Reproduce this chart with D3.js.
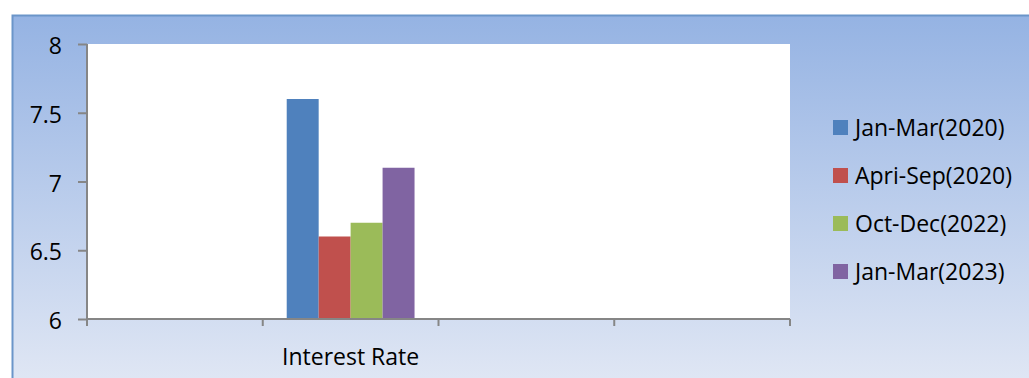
<!DOCTYPE html>
<html>
<head>
<meta charset="utf-8">
<script src="https://cdn.jsdelivr.net/npm/d3@7"></script>
<style>
  html, body { margin: 0; padding: 0; background: #fff; }
  svg { display: block; font-family: "Open Sans", "Noto Sans", sans-serif; }
</style>
</head>
<body>
<svg id="chart"></svg>
<script>
const width = 1029, height = 378;
const margin = { top: 44, right: 239, bottom: 59, left: 87 };
const plotWidth = width - margin.left - margin.right;
const plotHeight = height - margin.top - margin.bottom;

// Data
const categories = ["", "Interest Rate", "", ""];
const seriesNames = ["Jan-Mar(2020)", "Apri-Sep(2020)", "Oct-Dec(2022)", "Jan-Mar(2023)"];
const seriesValues = [7.6, 6.6, 6.7, 7.1];
const seriesColors = ["#4f81bd", "#c0504d", "#9bbb59", "#8064a2"];
const yTicks = [6, 6.5, 7, 7.5, 8];

const svg = d3.select("#chart")
    .attr("width", width)
    .attr("height", height)
    .attr("viewBox", [0, 0, width, height]);

// Background gradient
const defs = svg.append("defs");
const grad = defs.append("linearGradient")
    .attr("id", "bg")
    .attr("x1", 0).attr("y1", 0).attr("x2", 0).attr("y2", 1);
grad.append("stop").attr("offset", "0%").attr("stop-color", "#95b3e3");
grad.append("stop").attr("offset", "100%").attr("stop-color", "#dfe6f4");

svg.append("rect")
    .attr("x", 12)
    .attr("y", 16)
    .attr("width", width - 12)
    .attr("height", height - 16)
    .attr("fill", "url(#bg)");

// Frame border (left and top only, rest is cropped)
svg.append("path")
    .attr("d", `M12.5,${height} V15.5 H${width}`)
    .attr("fill", "none")
    .attr("stroke", "#6b95c9")
    .attr("stroke-width", 2);

const g = svg.append("g")
    .attr("transform", `translate(${margin.left},${margin.top})`);

// Plot area
g.append("rect")
    .attr("width", plotWidth)
    .attr("height", plotHeight)
    .attr("fill", "#fff");

// Scales
const xScale = d3.scaleBand().domain(d3.range(categories.length)).range([0, plotWidth]);
const xInner = d3.scaleBand().domain(seriesNames)
    .range([0, xScale.bandwidth()])
    .paddingOuter(0.75)
    .paddingInner(0);
const yScale = d3.scaleLinear().domain([6, 8]).range([plotHeight, 0]);

// Bars
const catIndex = categories.indexOf("Interest Rate");
g.append("g")
    .selectAll("rect")
    .data(seriesNames.map((name, i) => ({ name, value: seriesValues[i], color: seriesColors[i] })))
    .enter()
    .append("rect")
    .attr("x", d => xScale(catIndex) + xInner(d.name))
    .attr("y", d => yScale(d.value))
    .attr("width", xInner.bandwidth())
    .attr("height", d => plotHeight - yScale(d.value))
    .attr("fill", d => d.color);

// Y axis
const yAxis = g.append("g")
    .call(d3.axisLeft(yScale).tickValues(yTicks).tickSize(9).tickPadding(16)
        .tickFormat(d => d3.format("")(d)));
yAxis.select(".domain").attr("stroke", "#868686").attr("stroke-width", 2).attr("d", `M0,0V${plotHeight}`);
yAxis.selectAll(".tick line").attr("stroke", "#868686").attr("stroke-width", 2);
yAxis.selectAll(".tick text")
    .attr("fill", "#000")
    .attr("dy", "0.42em")
    .style("font-size", "23px")
    .style("font-family", "'Open Sans', sans-serif");

// X axis
const xAxisG = g.append("g")
    .attr("transform", `translate(0,${plotHeight})`);
xAxisG.append("line")
    .attr("x1", 0).attr("x2", plotWidth)
    .attr("stroke", "#868686").attr("stroke-width", 2);
xAxisG.selectAll(".xtick")
    .data(d3.range(categories.length + 1))
    .enter()
    .append("line")
    .attr("class", "xtick")
    .attr("x1", d => d === categories.length ? plotWidth : xScale(d))
    .attr("x2", d => d === categories.length ? plotWidth : xScale(d))
    .attr("y1", 0).attr("y2", 7)
    .attr("stroke", "#868686").attr("stroke-width", 2);
xAxisG.selectAll(".xlabel")
    .data(categories)
    .enter()
    .append("text")
    .attr("class", "xlabel")
    .attr("x", (d, i) => xScale(i) + xScale.bandwidth() / 2)
    .attr("y", 46)
    .attr("text-anchor", "middle")
    .style("font-size", "23px")
    .attr("fill", "#000")
    .text(d => d);

// Legend
const legend = svg.append("g")
    .attr("transform", "translate(833,120)");
const items = legend.selectAll("g")
    .data(seriesNames)
    .enter()
    .append("g")
    .attr("transform", (d, i) => `translate(0,${i * 48})`);
items.append("rect")
    .attr("width", 15)
    .attr("height", 15)
    .attr("fill", (d, i) => seriesColors[i]);
items.append("text")
    .attr("x", 22)
    .attr("y", 16)
    .style("font-size", "23px")
    .attr("fill", "#000")
    .text(d => d);
</script>
</body>
</html>
